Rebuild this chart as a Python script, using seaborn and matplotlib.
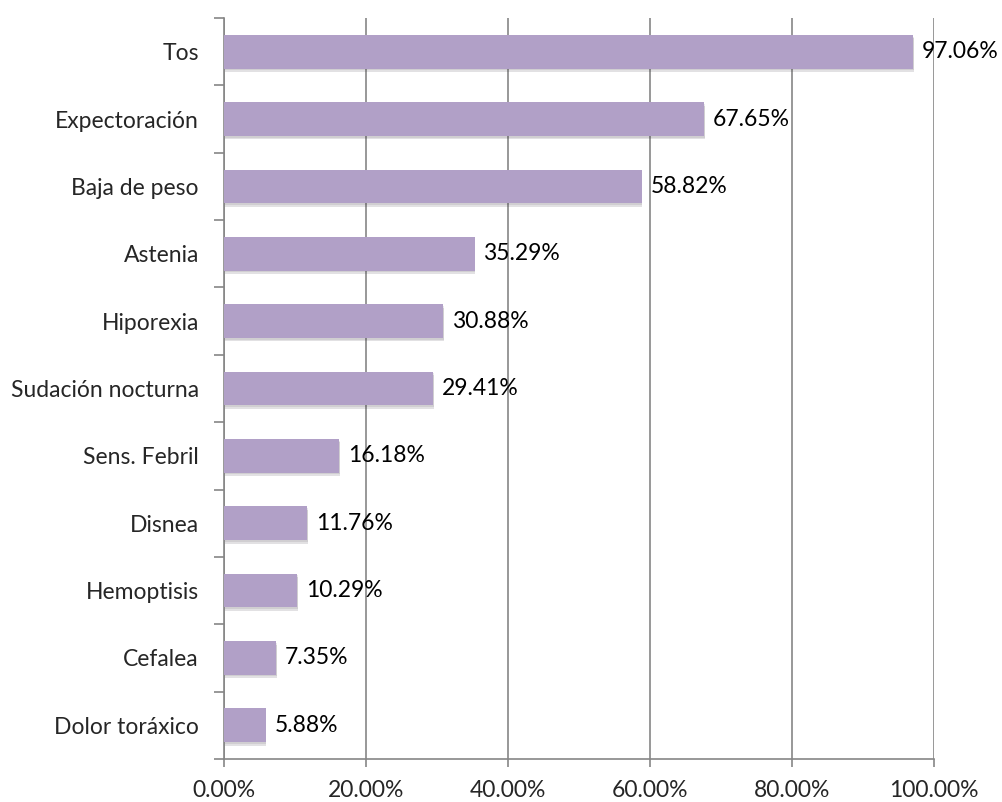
import matplotlib
matplotlib.use("Agg")
import matplotlib.pyplot as plt
import matplotlib.patheffects as pe
from matplotlib.ticker import FixedLocator, FuncFormatter
import seaborn as sns
import pandas as pd

sintomas = ["Tos", "Expectoración", "Baja de peso", "Astenia", "Hiporexia",
            "Sudación nocturna", "Sens. Febril", "Disnea", "Hemoptisis",
            "Cefalea", "Dolor toráxico"]
porcentajes = [97.06, 67.65, 58.82, 35.29, 30.88, 29.41, 16.18, 11.76, 10.29, 7.35, 5.88]
x_ticks = [0, 20, 40, 60, 80, 100]

sns.set_theme(style="white")
plt.rcParams["font.family"] = ["Lato", "DejaVu Sans"]

df = pd.DataFrame({"sintoma": sintomas, "pct": porcentajes})

fig = plt.figure(figsize=(10.03, 8.02), dpi=100)
ax = fig.add_axes([224 / 1003, 1 - 759 / 802, 710 / 1003, 741 / 802])

grey = "#868686"
bar_color = "#B1A0C7"
fs = 16.5

sns.barplot(data=df, x="pct", y="sintoma", orient="h", color=bar_color,
            width=0.5, saturation=1, ax=ax, zorder=3)

# soft drop shadow under each bar
for p in ax.patches:
    p.set_edgecolor("none")
    p.set_path_effects([pe.SimplePatchShadow(offset=(0.5, -2.5), alpha=0.14),
                        pe.SimplePatchShadow(offset=(0.5, -1.2), alpha=0.1),
                        pe.Normal()])

for i, v in enumerate(porcentajes):
    ax.text(v + 1.25, i, f"{v:.2f}%", va="center", ha="left",
            fontsize=fs, color="black", zorder=5)

ax.set_xlim(0, 100)
ax.set_ylim(len(sintomas) - 0.5, -0.5)
ax.set_xticks(x_ticks)
ax.xaxis.set_major_formatter(FuncFormatter(lambda v, _: f"{v:.2f}%"))
ax.grid(axis="x", color=grey, linewidth=1.2, zorder=0)
ax.grid(axis="y", visible=False)
ax.set_axisbelow(True)

# Category boundaries as tick marks, names centred between them
ax.yaxis.set_major_locator(FixedLocator([i - 0.5 for i in range(len(sintomas) + 1)]))
ax.yaxis.set_major_formatter(FuncFormatter(lambda v, _: ""))
ax.yaxis.set_minor_locator(FixedLocator(list(range(len(sintomas)))))
ax.set_yticklabels(sintomas, minor=True)
ax.tick_params(axis="y", which="major", length=7, width=1.2, color=grey, direction="out", left=True)
ax.tick_params(axis="y", which="minor", length=0, labelsize=fs, pad=18, left=True)
ax.tick_params(axis="x", length=6, width=1.2, color=grey, direction="out", labelsize=fs, pad=9, bottom=True)

ax.set_xlabel("")
ax.set_ylabel("")
for side in ["top", "right"]:
    ax.spines[side].set_visible(False)
for side in ["left", "bottom"]:
    ax.spines[side].set_color(grey)
    ax.spines[side].set_linewidth(1.2)

fig.savefig("out.png", dpi=100, facecolor="white")
